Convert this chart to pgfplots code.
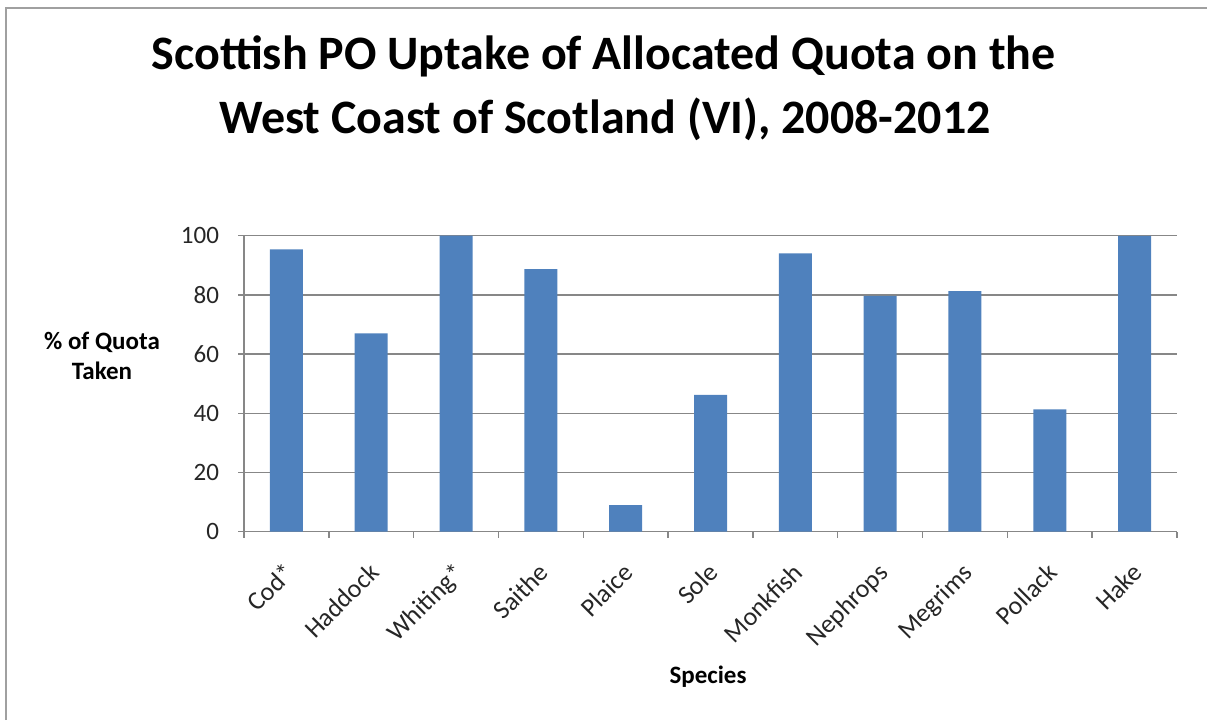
\documentclass[border=0pt]{standalone}
\usepackage{fontspec}
\setmainfont{Carlito}
\usepackage{pgfplots}
\pgfplotsset{compat=1.18}
\definecolor{barblue}{HTML}{4F81BD}
\definecolor{gridgray}{HTML}{878787}
\definecolor{framegray}{HTML}{A0A0A0}
\begin{document}
\begin{tikzpicture}
\path[use as bounding box] (0pt,0pt) rectangle (603.5pt,360pt);
\draw[framegray, line width=1pt] (3pt,0pt) -- (3pt,356pt) -- (603.5pt,356pt);
\node[font=\fontsize{24}{28}\selectfont\bfseries, anchor=base, inner sep=0pt] at (301.75pt,325.5pt) {Scottish PO Uptake of Allocated Quota on the};
\node[font=\fontsize{24}{28}\selectfont\bfseries, anchor=base, inner sep=0pt] at (302.5pt,293.5pt) {West Coast of Scotland (VI), 2008-2012};
\node[font=\fontsize{12.5}{15}\selectfont\bfseries, anchor=base, inner sep=0pt] at (51pt,185.5pt) {\% of Quota};
\node[font=\fontsize{12.5}{15}\selectfont\bfseries, anchor=base, inner sep=0pt] at (51pt,170.5pt) {Taken};
\node[font=\fontsize{12.5}{15}\selectfont\bfseries, anchor=base, inner sep=0pt] at (354pt,18.5pt) {Species};
\begin{axis}[
  at={(122pt,94.15pt)}, anchor=south west,
  scale only axis, width=466.5pt, height=148pt,
  xmin=-0.5, xmax=10.5, ymin=0, ymax=100,
  ytick={0,20,...,100},
  xtick={0,...,10},
  xticklabels={Cod*,Haddock,Whiting*,Saithe,Plaice,Sole,Monkfish,Nephrops,Megrims,Pollack,Hake},
  minor xtick={-0.5,0.5,...,10.5},
  major x tick style={draw=none},
  tick align=outside,
  major tick length=3pt, minor tick length=3pt,
  tick style={gridgray, line width=0.75pt},
  axis x line*=bottom, axis y line*=left,
  axis line style={gridgray, line width=0.75pt},
  ymajorgrids, grid style={gridgray, line width=0.75pt},
  /pgf/number format/assume math mode=true,
  ticklabel style={font=\fontsize{12.5}{15}\selectfont, text=black!85},
  yticklabel style={xshift=-6pt},
  xticklabel style={font=\fontsize{13}{15}\selectfont, rotate=45, anchor=north east, inner sep=1pt, xshift=-8.5pt, yshift=-6pt},
  ybar, bar width=16.5pt,
]
\addplot[fill=barblue, draw=none] coordinates {
(0,95.4) (1,67.0) (2,100) (3,88.7) (4,9.0) (5,46.2) (6,94.0) (7,79.7) (8,81.3) (9,41.3) (10,99.9)
};
\end{axis}
\end{tikzpicture}
\end{document}
